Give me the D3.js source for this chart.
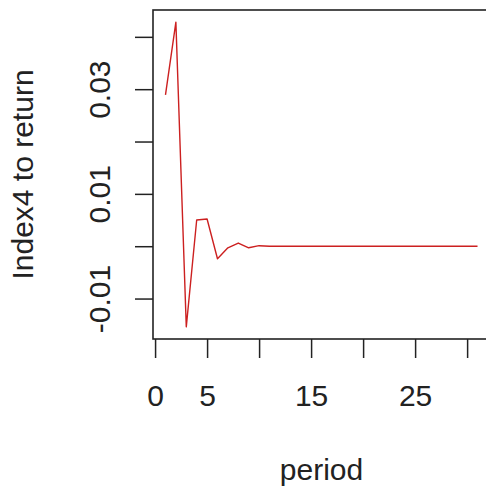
<!DOCTYPE html>
<html>
<head>
<meta charset="utf-8">
<script src="https://cdn.jsdelivr.net/npm/d3@7"></script>
<style>
  html, body { margin: 0; padding: 0; background: #fff; }
  text { font-family: "Liberation Sans", Arial, sans-serif; fill: #222; }
</style>
</head>
<body>
<div id="chart"></div>
<script>
// response of Index4 to return, by period
var periods = d3.range(1, 32);
var response = [0.0289, 0.0428, -0.0154, 0.0050, 0.0052, -0.0024, -0.0003, 0.0006, -0.0003, 0.0001,
                 0, 0, 0, 0, 0, 0, 0, 0, 0, 0,
                 0, 0, 0, 0, 0, 0, 0, 0, 0, 0, 0];
var xTicks = [0, 5, 10, 15, 20, 25, 30];
var xTickLabels = [0, 5, 15, 25];
var yTicks = [-0.01, 0, 0.01, 0.02, 0.03, 0.04];
var yTickLabels = [-0.01, 0.01, 0.03];

var width = 486, height = 498;
// plot region, right edge runs past the window like the original
var box = {left: 153, top: 10, right: 490, bottom: 339};

var svg = d3.select("#chart").append("svg")
    .attr("width", width)
    .attr("height", height);

// R style 4% padding on both axes
function padded(ext) {
    var p = (ext[1] - ext[0]) * 0.04;
    return [ext[0] - p, ext[1] + p];
}

var x = d3.scaleLinear()
    .domain(padded(d3.extent(periods)))
    .range([box.left, box.right]);

var y = d3.scaleLinear()
    .domain(padded(d3.extent(response)))
    .range([box.bottom, box.top]);

var points = periods.map(function(p, i) { return {p: p, v: response[i]}; });

var line = d3.line()
    .x(function(d) { return x(d.p); })
    .y(function(d) { return y(d.v); });

svg.append("path")
    .datum(points)
    .attr("d", line)
    .attr("fill", "none")
    .attr("stroke", "#cc2020")
    .attr("stroke-width", 1.4)
    .attr("stroke-linejoin", "round");

// x axis
var xAxis = svg.append("g")
    .attr("transform", "translate(0," + box.bottom + ")")
    .call(d3.axisBottom(x)
        .tickValues(xTicks)
        .tickSize(19)
        .tickPadding(27)
        .tickFormat(function(d) { return xTickLabels.indexOf(d) >= 0 ? d : ""; }));

xAxis.select(".domain").remove();
xAxis.selectAll("line").attr("stroke", "#222").attr("stroke-width", 1.5);
xAxis.selectAll("text")
    .style("font-size", "30px")
    .attr("fill", "#222");

// y axis, plain hyphen for minus like R
var yAxis = svg.append("g")
    .attr("transform", "translate(" + box.left + ",0)")
    .call(d3.axisLeft(y)
        .tickValues(yTicks)
        .tickSize(18)
        .tickFormat(function(d) {
            var shown = yTickLabels.some(function(v) { return Math.abs(v - d) < 1e-9; });
            return shown ? d.toFixed(2) : "";
        }));

yAxis.select(".domain").remove();
yAxis.selectAll("line").attr("stroke", "#222").attr("stroke-width", 1.5);
yAxis.selectAll("text")
    .style("font-size", "30px")
    .attr("fill", "#222")
    .attr("x", null)
    .attr("dy", null)
    .attr("text-anchor", "middle")
    .attr("transform", "translate(-43,0) rotate(-90)");

// box around plot region
svg.append("rect")
    .attr("x", box.left)
    .attr("y", box.top)
    .attr("width", box.right - box.left)
    .attr("height", box.bottom - box.top)
    .attr("fill", "none")
    .attr("stroke", "#222")
    .attr("stroke-width", 1.6);

// axis titles
svg.append("text")
    .attr("x", (box.left + box.right) / 2)
    .attr("y", 480)
    .attr("text-anchor", "middle")
    .style("font-size", "30px")
    .text("period");

svg.append("text")
    .attr("transform", "translate(33," + (box.top + box.bottom) / 2 + ") rotate(-90)")
    .attr("text-anchor", "middle")
    .style("font-size", "30px")
    .text("Index4 to return");
</script>
</body>
</html>
